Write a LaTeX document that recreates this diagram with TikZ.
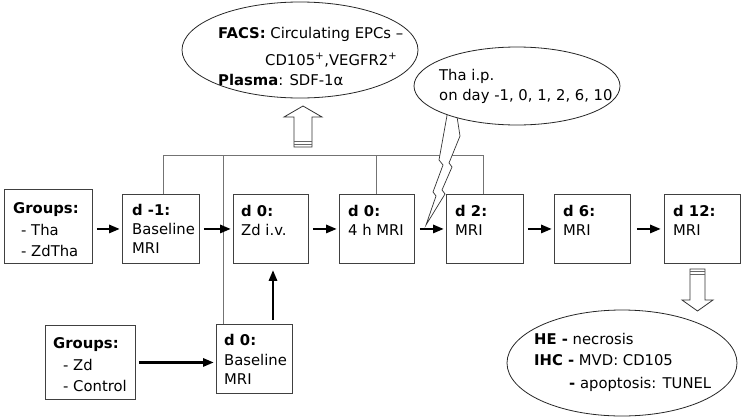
\documentclass[tikz,border=0pt]{standalone}
\usepackage{fontspec}
\setmainfont{DejaVu Sans}
\usetikzlibrary{arrows.meta,calc,shapes.geometric}
\begin{document}
\begin{tikzpicture}[x=1pt,y=-1pt,
  box/.style={draw=black!75,line width=0.9pt,fill=white,inner sep=0pt,anchor=north west},
  lbl/.style={anchor=base west,inner sep=0pt,font=\fontsize{14.8}{17}\selectfont},
  conn/.style={draw=black!55,line width=0.9pt},
  arr/.style={line width=2.8pt,-{Triangle[length=11pt,width=8pt]}},
  oval/.style={draw=black!85,line width=0.8pt,ellipse,fill=white,inner sep=0pt},
  hollow/.style={draw=black!80,line width=0.8pt,fill=white,line join=miter},
  stripe/.style={draw=black!60,line width=0.8pt}]
\useasboundingbox (0,0) rectangle (744,418);

% boxes
\node[box,minimum width=88pt,minimum height=74pt] (g1) at (4,189) {};
\node[box,minimum width=77pt,minimum height=69pt] (dm1) at (122,194) {};
\node[box,minimum width=75pt,minimum height=69pt] (zd) at (233,194) {};
\node[box,minimum width=75pt,minimum height=69pt] (h4) at (339,194) {};
\node[box,minimum width=77pt,minimum height=69pt] (d2) at (446,194) {};
\node[box,minimum width=76pt,minimum height=69pt] (d6) at (554,194) {};
\node[box,minimum width=76pt,minimum height=69pt] (d12) at (664,194) {};
\node[box,minimum width=76pt,minimum height=69pt] (d0b) at (216,324) {};
\node[box,minimum width=90pt,minimum height=74pt] (g2) at (45,325) {};

% thin connectors
\coordinate (hl) at (163,155);
\coordinate (hr) at (483,155);
\coordinate (v2) at (223,155);
\coordinate (v3) at (376,155);
\coordinate (vx) at (273,300);
\draw[conn] (dm1.north -| hl) -- (hl) -- (hr) -- (d2.north -| hr);
\draw[conn] (v2) -- (d0b.north -| v2);
\draw[conn] (v3) -- (h4.north -| v3);

% box texts
\node[lbl] (g1a) at (13,213) {\textbf{Groups:}};
\node[lbl] (g1b) at (21,235) {- Tha};
\node[lbl] (g1c) at (21,256) {- ZdTha};

\node[lbl] (dm1a) at (132,215) {\textbf{d -1:}};
\node[lbl] (dm1b) at (132,234) {Baseline};
\node[lbl] (dm1c) at (132,253) {MRI};

\node[lbl] (zda) at (241,216) {\textbf{d 0:}};
\node[lbl] (zdb) at (241,235) {Zd i.v.};

\node[lbl] (h4a) at (348,216) {\textbf{d 0:}};
\node[lbl] (h4b) at (348,235) {4 h MRI};

\node[lbl] (d2a) at (455,216) {\textbf{d 2:}};
\node[lbl] (d2b) at (455,235) {MRI};

\node[lbl] (d6a) at (563,216) {\textbf{d 6:}};
\node[lbl] (d6b) at (563,235) {MRI};

\node[lbl] (d12a) at (673,216) {\textbf{d 12:}};
\node[lbl] (d12b) at (673,235) {MRI};

\node[lbl] (d0ba) at (224,345) {\textbf{d 0:}};
\node[lbl] (d0bb) at (224,365) {Baseline};
\node[lbl] (d0bc) at (224,384) {MRI};

\node[lbl] (g2a) at (53,348) {\textbf{Groups:}};
\node[lbl] (g2b) at (63,370) {- Zd};
\node[lbl] (g2c) at (63,391) {- Control};

% thick arrows
\draw[arr,shorten <=4pt,shorten >=2pt] (g1.east |- dm1.west) -- (dm1.west);
\draw[arr,shorten <=4pt,shorten >=2pt] (dm1.east) -- (zd.west);
\draw[arr,shorten <=4pt,shorten >=2pt] (zd.east) -- (h4.west);
\draw[arr,shorten <=5pt,shorten >=2pt] (h4.east) -- (d2.west);
\draw[arr,shorten <=4pt,shorten >=2pt] (d2.east) -- (d6.west);
\draw[arr,shorten <=6pt,shorten >=3pt] (d6.east) -- (d12.west);
\draw[arr,shorten <=3pt,shorten >=2pt] (g2.east) -- (g2.east -| d0b.west);
\draw[arr,shorten <=4pt,shorten >=6pt] (d0b.north -| vx) -- (zd.south -| vx);

% hollow arrows
\draw[hollow] (294,147) -- (312,147) -- (312,117) -- (322,117) -- (303,106) -- (284,117) -- (294,117) -- cycle;
\draw[stripe] (294,141.5) -- (312,141.5);
\draw[stripe] (294,144.2) -- (312,144.2);
\draw[hollow] (690,269) -- (705,269) -- (705,300) -- (713,300) -- (697.5,311) -- (682,300) -- (690,300) -- cycle;
\draw[stripe] (690,271.8) -- (705,271.8);
\draw[stripe] (690,274.5) -- (705,274.5);

% lightning
\draw[hollow,line width=0.7pt] (448,110) -- (456,110) -- (460,136) -- (449,163) -- (452,167) -- (442,190) -- (445,194) -- (426,225)
  -- (436,196) -- (433,192) -- (443,165) -- (439,160) -- cycle;

% ellipses
\node[oval,minimum width=236pt,minimum height=96pt] (facs) at (300,50) {};
\node[oval,minimum width=206pt,minimum height=78pt] (tha) at (517,86) {};
\node[oval,minimum width=230pt,minimum height=106pt] (he) at (622,363) {};

\node[lbl] (facsa) at (218,38) {\textbf{FACS:} Circulating EPCs –};
\node[lbl] (facsb) at (265,65) {CD105\textsuperscript{+},VEGFR2\textsuperscript{+}};
\node[lbl] (facsc) at (218,85) {\textbf{Plasma}: SDF-1α};

\node[lbl] (thaa) at (439,80) {Tha i.p.};
\node[lbl] (thab) at (439,100) {on day -1, 0, 1, 2, 6, 10};

\node[lbl] (hea) at (534,344) {\textbf{HE -} necrosis};
\node[lbl] (heb) at (534,365) {\textbf{IHC -} MVD: CD105};
\node[lbl] (hec) at (569,388) {\textbf{-} apoptosis: TUNEL};
\end{tikzpicture}
\end{document}
